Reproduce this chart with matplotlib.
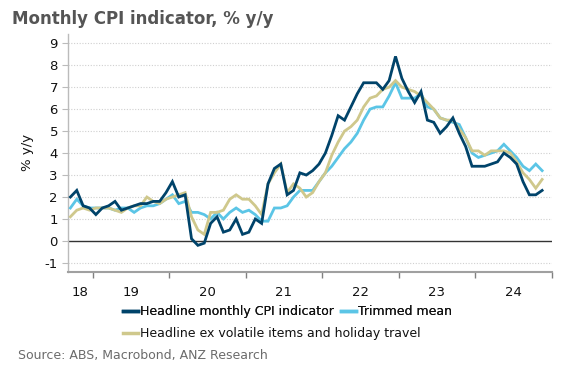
import matplotlib
matplotlib.use("Agg")
import matplotlib.pyplot as plt
import numpy as np
import pandas as pd
from matplotlib.lines import Line2D

# ---- data (monthly, Sep 2018 - Nov 2024) ----
months = pd.period_range("2018-09", "2024-11", freq="M")

headline = [2.0, 2.3, 1.6, 1.5, 1.2, 1.5, 1.6, 1.8, 1.4, 1.5, 1.6, 1.7,
            1.7, 1.8, 1.8, 2.2, 2.7, 2.0, 2.1, 0.1, -0.2, -0.1, 0.8, 1.1,
            0.4, 0.5, 1.0, 0.3, 0.4, 1.0, 0.8, 2.6, 3.3, 3.5, 2.1, 2.3,
            3.1, 3.0, 3.2, 3.5, 4.0, 4.8, 5.7, 5.5, 6.1, 6.7, 7.2, 7.2,
            7.2, 6.9, 7.3, 8.4, 7.4, 6.8, 6.3, 6.8, 5.5, 5.4, 4.9, 5.2,
            5.6, 4.9, 4.3, 3.4, 3.4, 3.4, 3.5, 3.6, 4.0, 3.8, 3.5, 2.7,
            2.1, 2.1, 2.3]

trimmed = [1.5, 1.9, 1.6, 1.5, 1.5, 1.5, 1.5, 1.4, 1.5, 1.5, 1.3, 1.5,
           1.6, 1.6, 1.7, 1.9, 2.1, 1.7, 1.8, 1.3, 1.3, 1.2, 1.0, 1.3,
           1.0, 1.3, 1.5, 1.3, 1.4, 1.2, 0.9, 0.9, 1.5, 1.5, 1.6, 2.0,
           2.3, 2.3, 2.3, 2.7, 3.1, 3.4, 3.8, 4.2, 4.5, 4.9, 5.5, 6.0,
           6.1, 6.1, 6.6, 7.2, 6.5, 6.5, 6.5, 6.7, 6.1, 6.0, 5.6, 5.5,
           5.4, 5.3, 4.7, 4.0, 3.8, 3.9, 4.0, 4.1, 4.4, 4.1, 3.8, 3.4,
           3.2, 3.5, 3.2]

ex_volatile = [1.1, 1.4, 1.5, 1.4, 1.5, 1.5, 1.5, 1.4, 1.3, 1.5, 1.6, 1.6,
               2.0, 1.8, 1.7, 1.9, 2.0, 2.1, 2.2, 1.1, 0.5, 0.3, 1.3, 1.3,
               1.4, 1.9, 2.1, 1.9, 1.9, 1.6, 1.2, 2.6, 3.1, 3.5, 2.2, 2.6,
               2.4, 2.0, 2.2, 2.7, 3.1, 3.9, 4.5, 5.0, 5.2, 5.5, 6.1, 6.5,
               6.6, 6.9, 7.0, 7.3, 7.0, 6.9, 6.8, 6.6, 6.3, 6.0, 5.6, 5.5,
               5.5, 5.1, 4.7, 4.1, 4.1, 3.9, 4.1, 4.1, 4.1, 4.0, 3.6, 3.1,
               2.8, 2.4, 2.8]

year_labels = ["18", "19", "20", "21", "22", "23", "24"]
y_ticks = [-1, 0, 1, 2, 3, 4, 5, 6, 7, 8, 9]

series_names = ["Headline monthly CPI indicator", "Trimmed mean",
                "Headline ex volatile items and holiday travel"]
colors = ["#00436A", "#5BC5E6", "#CFC88C"]

# ---- figure ----
W, H = 572, 379
fig = plt.figure(figsize=(W / 100, H / 100), dpi=100)
ax_l, ax_r, ax_t, ax_b = 67.7, 551.7, 34, 271.7
ax = fig.add_axes([ax_l / W, 1 - ax_b / H, (ax_r - ax_l) / W, (ax_b - ax_t) / H])

x = np.array([m.year + (m.month - 0.5) / 12 for m in months])

# grid
for v in y_ticks:
    if v != 0:
        ax.axhline(v, color="#d0d0d0", lw=0.8, ls=(0, (1, 1.5)), zorder=0)
ax.axhline(0, color="#333333", lw=1.0, zorder=1)

ax.plot(x, trimmed, color=colors[1], lw=2.0, zorder=3, solid_joinstyle="miter")
ax.plot(x, ex_volatile, color=colors[2], lw=2.0, zorder=3, solid_joinstyle="miter")
ax.plot(x, headline, color=colors[0], lw=2.0, zorder=4, solid_joinstyle="miter")

x0 = 2025 - (ax_r - ax_l) / 76.5
ax.set_xlim(x0, 2025.0)
ax.set_ylim(-1.40, 9.42)

for s in ["top", "right"]:
    ax.spines[s].set_visible(False)
ax.spines["left"].set_color("#bbbbbb")
ax.spines["left"].set_linewidth(1.0)
ax.spines["bottom"].set_color("#a0a0a0")
ax.spines["bottom"].set_linewidth(1.5)

ax.set_yticks(y_ticks)
ax.set_yticklabels([str(v) for v in y_ticks])
ax.tick_params(axis="y", length=4, width=0.8, color="#bbbbbb", labelsize=9.5,
               labelcolor="#111111", pad=3)

# year boundary ticks and centred labels
ax.set_xticks(list(range(2019, 2026)))
ax.set_xticklabels([""] * 7)
ax.tick_params(axis="x", which="major", length=4, width=1.0, color="#808080")
label_pos = [(x0 + 2019) / 2] + [2019.5 + i for i in range(6)]
ax.set_xticks(label_pos, minor=True)
ax.set_xticklabels(year_labels, minor=True)
ax.tick_params(axis="x", which="minor", length=0, labelsize=9.5,
               labelcolor="#111111", pad=10)

ax.set_ylabel("% y/y", fontsize=9.5, color="#111111", labelpad=8)

# title and source
fig.text(12 / W, 1 - 19 / H, "Monthly CPI indicator, % y/y", fontsize=12,
         fontweight="bold", color="#555555", ha="left", va="center")
fig.text(18 / W, 1 - 356 / H, "Source: ABS, Macrobond, ANZ Research",
         fontsize=9, color="#6b6b6b", ha="left", va="center")

# legend rows (flow layout)
h = [Line2D([], [], color=c, lw=2.5) for c in colors]
leg1 = fig.legend([h[0], h[1]], series_names[:2], ncol=2, frameon=False,
                  loc="upper left", bbox_to_anchor=(123 / W, 1 - 305 / H),
                  bbox_transform=fig.transFigure, borderpad=0, borderaxespad=0,
                  handlelength=1.2, handletextpad=0.15, columnspacing=0.55,
                  fontsize=9, labelcolor="#111111")
fig.add_artist(leg1)
leg2 = fig.legend([h[2]], series_names[2:], ncol=1, frameon=False,
                  loc="upper left", bbox_to_anchor=(123 / W, 1 - 327 / H),
                  bbox_transform=fig.transFigure, borderpad=0, borderaxespad=0,
                  handlelength=1.2, handletextpad=0.15,
                  fontsize=9, labelcolor="#111111")

fig.savefig("out.png", dpi=100)
